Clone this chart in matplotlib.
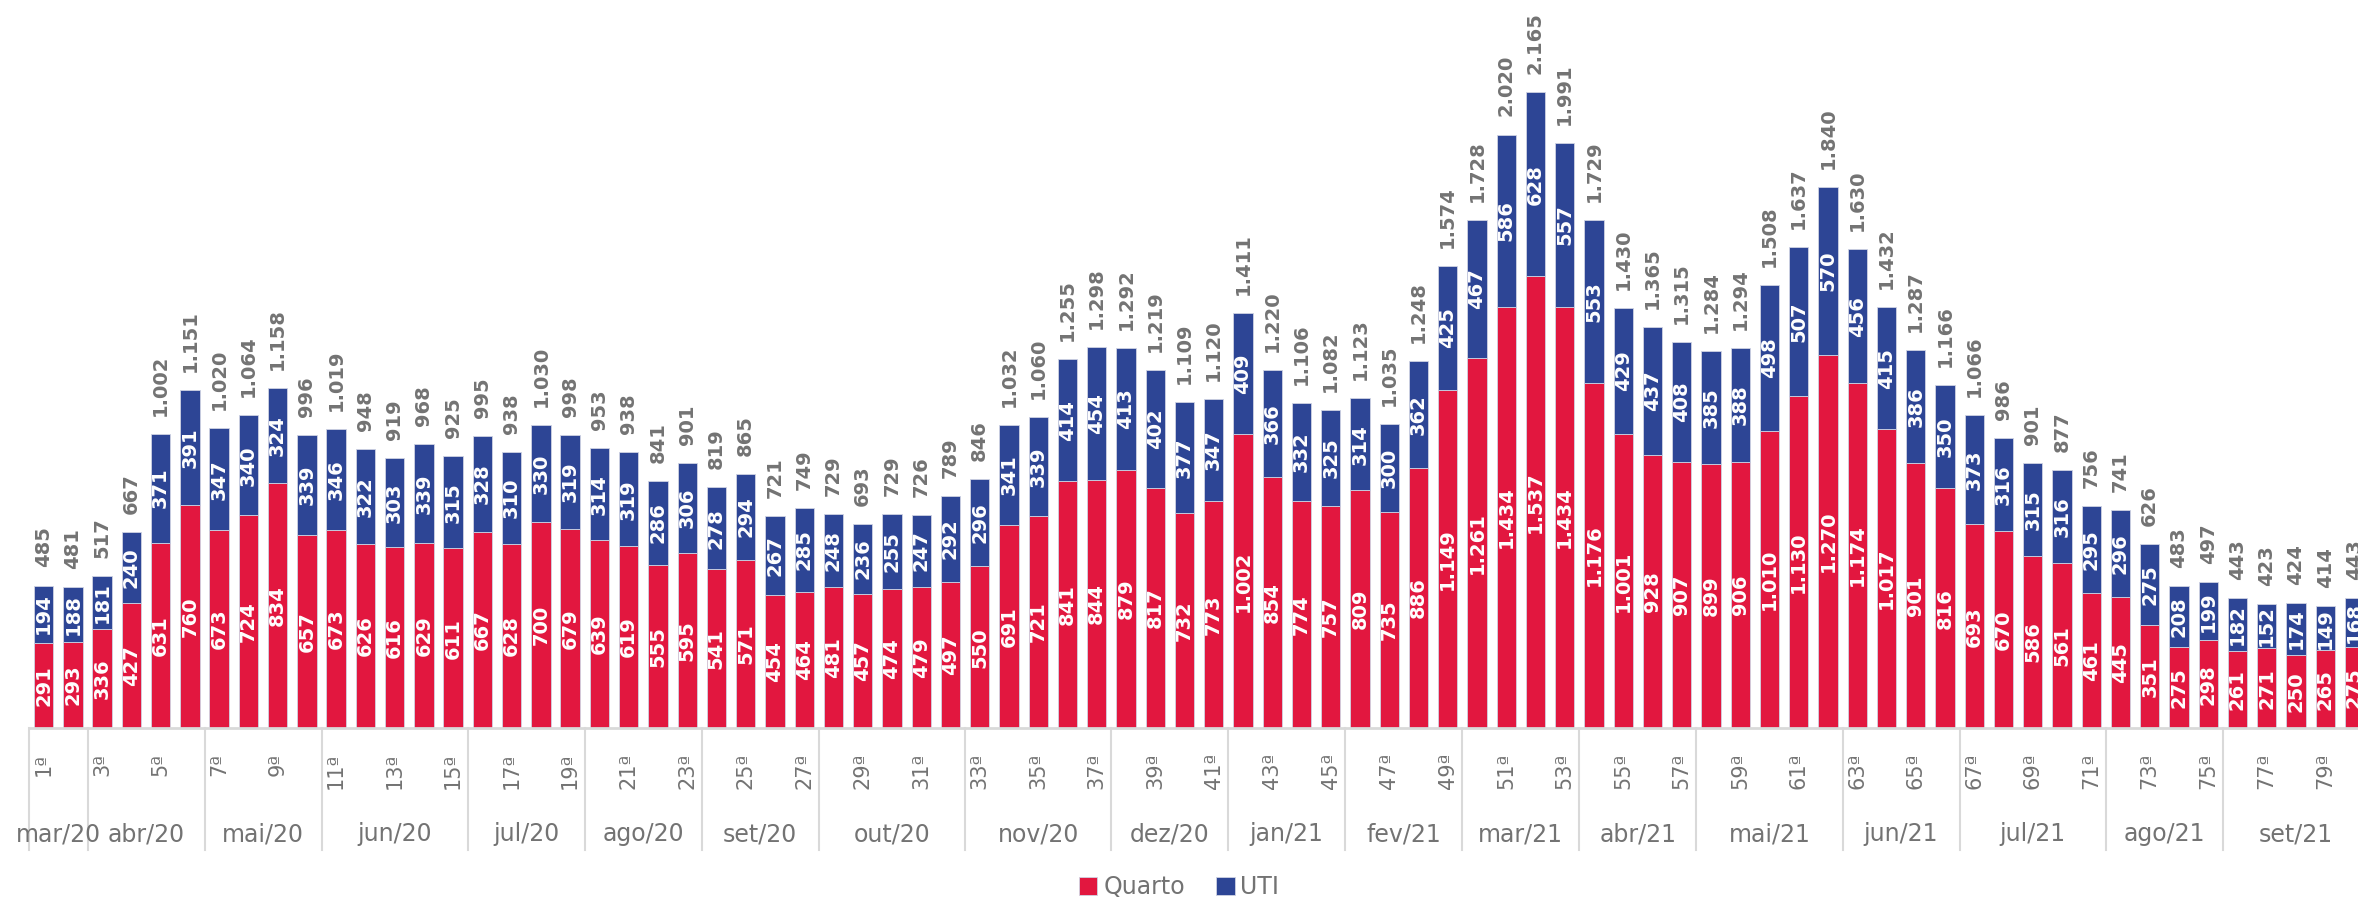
import matplotlib
matplotlib.use("Agg")
import matplotlib.pyplot as plt
import numpy as np

# internações semanais: quarto x UTI (semanas 1 a 80)
quarto = [291, 293, 336, 427, 631, 760, 673, 724, 834, 657,
          673, 626, 616, 629, 611, 667, 628, 700, 679, 639,
          619, 555, 595, 541, 571, 454, 464, 481, 457, 474,
          479, 497, 550, 691, 721, 841, 844, 879, 817, 732,
          773, 1002, 854, 774, 757, 809, 735, 886, 1149, 1261,
          1434, 1537, 1434, 1176, 1001, 928, 907, 899, 906, 1010,
          1130, 1270, 1174, 1017, 901, 816, 693, 670, 586, 561,
          461, 445, 351, 275, 298, 261, 271, 250, 265, 275]
uti = [194, 188, 181, 240, 371, 391, 347, 340, 324, 339,
       346, 322, 303, 339, 315, 328, 310, 330, 319, 314,
       319, 286, 306, 278, 294, 267, 285, 248, 236, 255,
       247, 292, 296, 341, 339, 414, 454, 413, 402, 377,
       347, 409, 366, 332, 325, 314, 300, 362, 425, 467,
       586, 628, 557, 553, 429, 437, 408, 385, 388, 498,
       507, 570, 456, 415, 386, 350, 373, 316, 315, 316,
       295, 296, 275, 208, 199, 182, 152, 174, 149, 168]
totais = [485, 481, 517, 667, 1002, 1151, 1020, 1064, 1158, 996,
          1019, 948, 919, 968, 925, 995, 938, 1030, 998, 953,
          938, 841, 901, 819, 865, 721, 749, 729, 693, 729,
          726, 789, 846, 1032, 1060, 1255, 1298, 1292, 1219, 1109,
          1120, 1411, 1220, 1106, 1082, 1123, 1035, 1248, 1574, 1728,
          2020, 2165, 1991, 1729, 1430, 1365, 1315, 1284, 1294, 1508,
          1637, 1840, 1630, 1432, 1287, 1166, 1066, 986, 901, 877,
          756, 741, 626, 483, 497, 443, 423, 424, 414, 443]

meses = ["mar/20", "abr/20", "mai/20", "jun/20", "jul/20", "ago/20", "set/20",
         "out/20", "nov/20", "dez/20", "jan/21", "fev/21", "mar/21", "abr/21",
         "mai/21", "jun/21", "jul/21", "ago/21", "set/21"]
semanas_por_mes = [2, 4, 4, 5, 4, 4, 4, 5, 5, 4, 4, 4, 4, 4, 5, 4, 5, 4, 5]

RED = "#E2173F"
BLUE = "#2D4595"
GREY = "#737373"
LINE = "#D9D9D9"


def fmt(v):
    return f"{v:,}".replace(",", ".")


W, H = 2358, 899
fig = plt.figure(figsize=(W / 100, H / 100), dpi=100)
ax = fig.add_axes([29 / W, 171 / H, 1 - 29 / W, 728 / H])

x = np.arange(len(quarto))
bw = 0.66
b1 = ax.bar(x, quarto, bw, color=RED, edgecolor="#cfd3e3", linewidth=0.6, label="Quarto")
b2 = ax.bar(x, uti, bw, bottom=quarto, color=BLUE, edgecolor="#cfd3e3", linewidth=0.6, label="UTI")

for i in range(len(x)):
    q, u, t = quarto[i], uti[i], totais[i]
    ax.text(x[i], q / 2, fmt(q), rotation=90, ha="center", va="center",
            color="white", fontsize=14, fontweight="bold")
    ax.text(x[i], q + u / 2, fmt(u), rotation=90, ha="center", va="center",
            color="white", fontsize=14, fontweight="bold")
    ax.annotate(fmt(t), (x[i], q + u), xytext=(0, 13), textcoords="offset points",
                rotation=90, ha="center", va="bottom", color=GREY,
                fontsize=14, fontweight="bold")

ax.set_xlim(-0.5, 79.12)
ax.set_ylim(0, 2478)
ax.axis("off")

# linha base
ax.plot([-0.5, 79.12], [0, 0], color=LINE, lw=2, clip_on=False)

# rótulos das semanas (ímpares)
trans = ax.get_xaxis_transform()
for i in range(0, len(x), 2):
    ax.text(x[i], -0.034, f"{i + 1}ª", transform=trans, rotation=90,
            ha="center", va="top", color=GREY, fontsize=15)

# meses e separadores
start = 0
bounds = [-0.5]
for m, n in zip(meses, semanas_por_mes):
    centro = start + (n - 1) / 2
    ax.text(centro, -0.146, m, transform=trans, ha="center", va="center",
            color=GREY, fontsize=17)
    start += n
    bounds.append(start - 0.5)
for b in bounds:
    ax.plot([b, b], [0, -0.168], transform=trans, color=LINE, lw=1.5, clip_on=False)

fig.legend(handles=[b1, b2], labels=["Quarto", "UTI"], loc="center",
           bbox_to_anchor=(0.5, 12 / H), ncol=2, frameon=False, fontsize=17,
           labelcolor=GREY, handlelength=0.8, handleheight=0.8,
           handletextpad=0.25, columnspacing=1.3)

fig.savefig("out.png", dpi=100)
